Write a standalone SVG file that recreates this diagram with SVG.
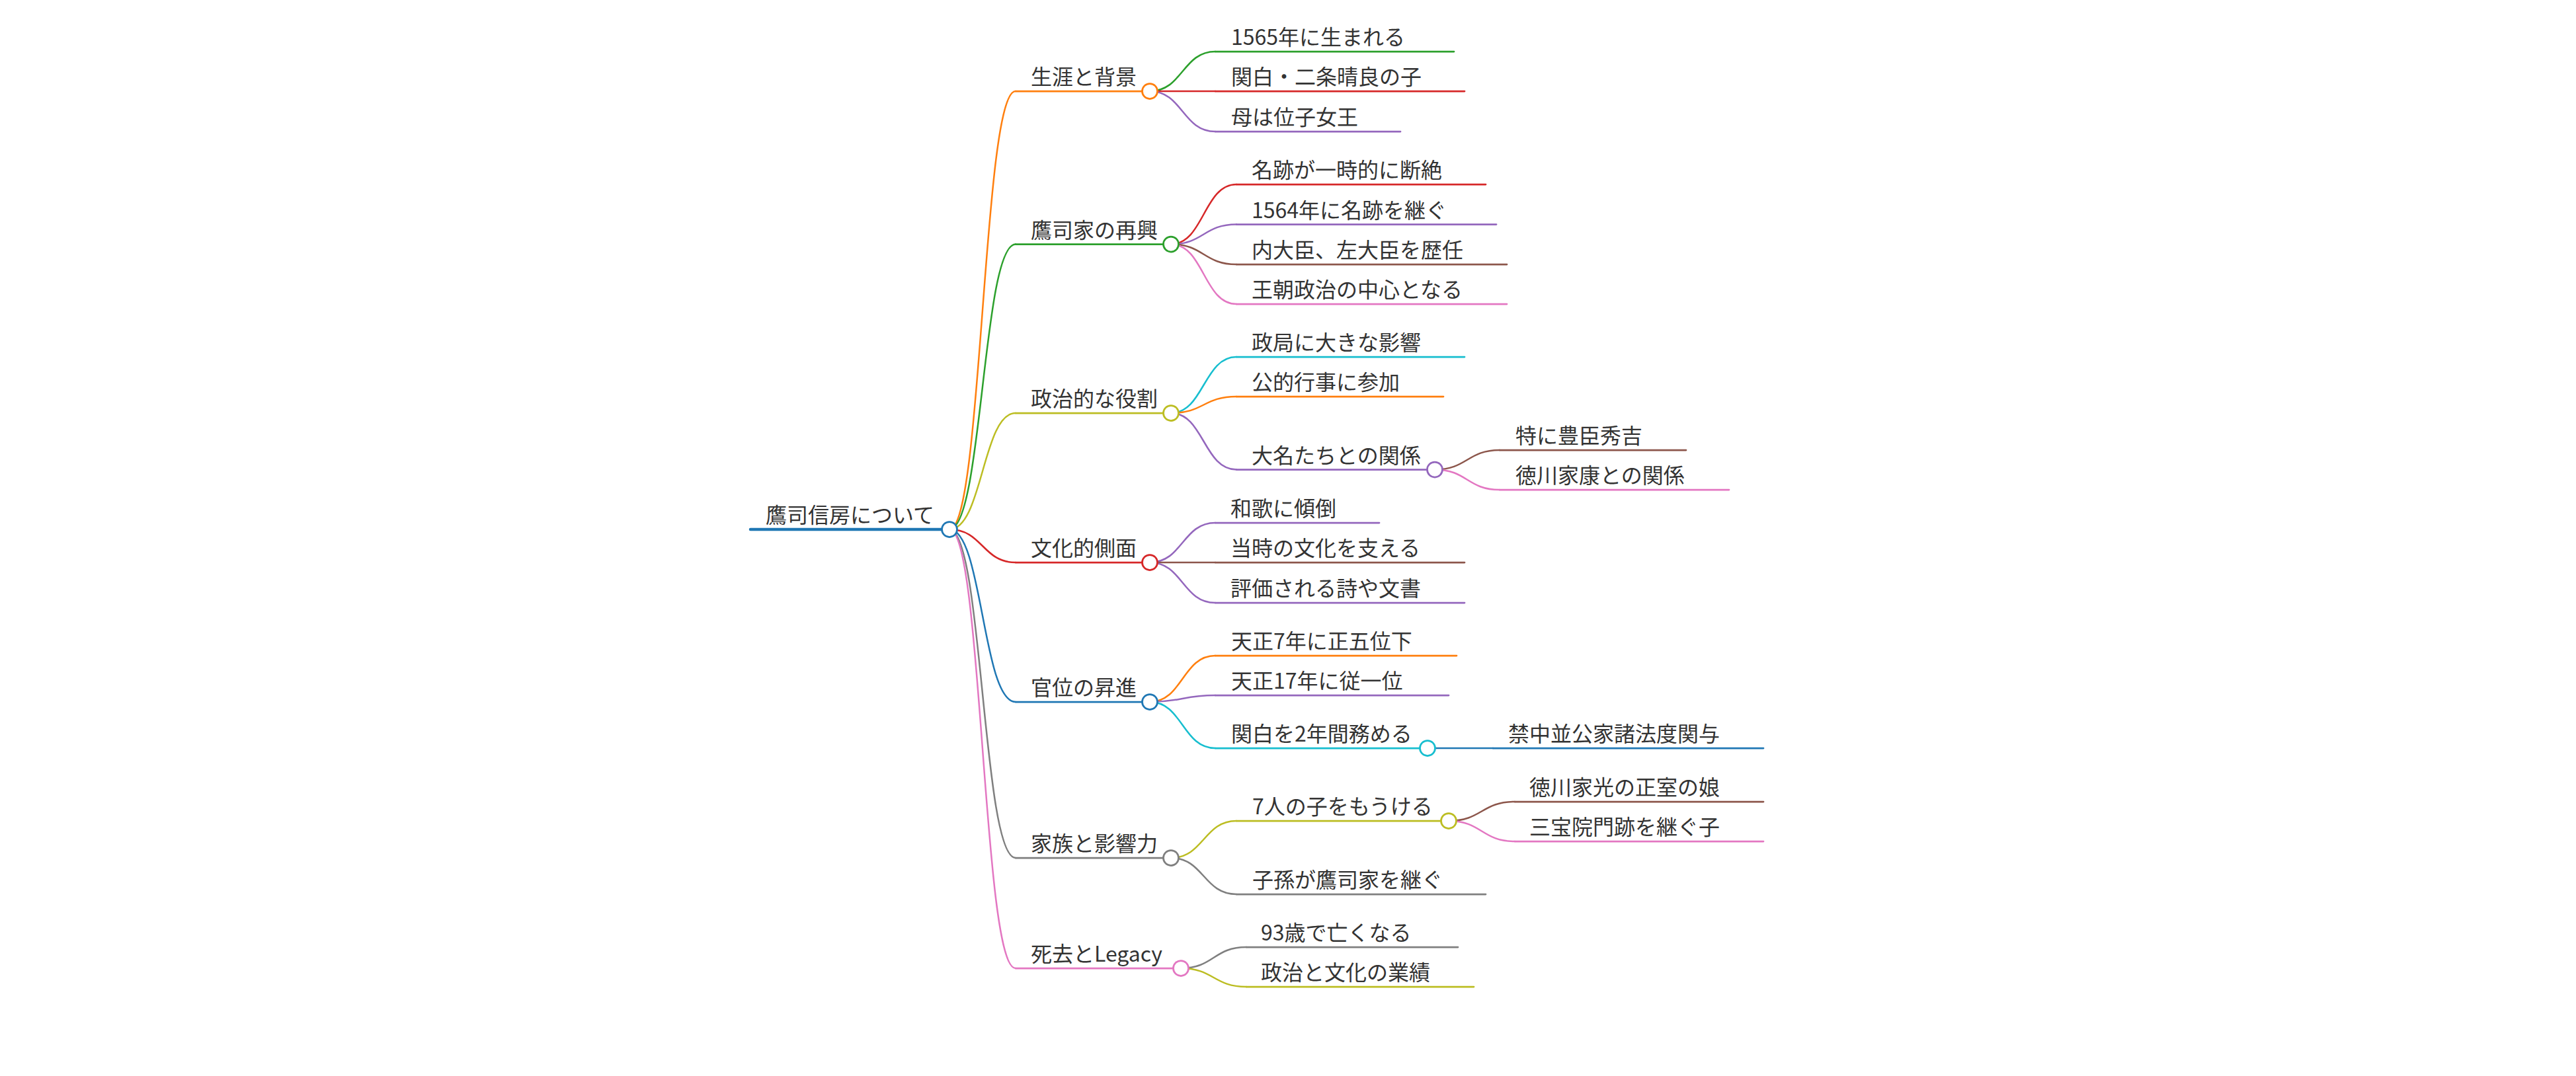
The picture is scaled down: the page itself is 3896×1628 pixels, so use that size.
<svg xmlns="http://www.w3.org/2000/svg" width="3896" height="1628" viewBox="0 0 3896 1628">
<style>
text{font-family:"Noto Sans CJK JP","Noto Sans",sans-serif;font-size:32px;fill:#333}
path{fill:none;stroke-width:2.5;stroke-linecap:round}
.ul{stroke-width:2.75}
.rootul{stroke-width:4.5}
circle{fill:#fff;stroke-width:2.75}
.c0{stroke:#1f77b4}.c1{stroke:#ff7f0e}.c2{stroke:#2ca02c}.c3{stroke:#d62728}.c4{stroke:#9467bd}
.c5{stroke:#8c564b}.c6{stroke:#e377c2}.c7{stroke:#7f7f7f}.c8{stroke:#bcbd22}.c9{stroke:#17becf}
</style>
<rect width="3896" height="1628" fill="#fff"/>
<g id="connectors">
<path class="c1" d="M1436,801 C1486,801 1486,138 1536,138"/>
<path class="c2" d="M1436,801 C1486,801 1486,369.5 1536,369.5"/>
<path class="c8" d="M1436,801 C1486,801 1486,625 1536,625"/>
<path class="c3" d="M1436,801 C1486,801 1486,851 1536,851"/>
<path class="c0" d="M1436,801 C1486,801 1486,1062 1536,1062"/>
<path class="c7" d="M1436,801 C1486,801 1486,1298 1536,1298"/>
<path class="c6" d="M1436,801 C1486,801 1486,1465 1536,1465"/>
<path class="c2" d="M1739,138 C1788.5,138 1788.5,78 1838,78"/>
<path class="c3" d="M1739,138 C1788.5,138 1788.5,138 1838,138"/>
<path class="c4" d="M1739,138 C1788.5,138 1788.5,199 1838,199"/>
<path class="c3" d="M1771,369.5 C1820.5,369.5 1820.5,279 1870,279"/>
<path class="c4" d="M1771,369.5 C1820.5,369.5 1820.5,339.5 1870,339.5"/>
<path class="c5" d="M1771,369.5 C1820.5,369.5 1820.5,400 1870,400"/>
<path class="c6" d="M1771,369.5 C1820.5,369.5 1820.5,460 1870,460"/>
<path class="c9" d="M1771,625 C1820.5,625 1820.5,540 1870,540"/>
<path class="c1" d="M1771,625 C1820.5,625 1820.5,600 1870,600"/>
<path class="c4" d="M1771,625 C1820.5,625 1820.5,710.5 1870,710.5"/>
<path class="c5" d="M2170,710.5 C2219,710.5 2219,681 2268,681"/>
<path class="c6" d="M2170,710.5 C2219,710.5 2219,741 2268,741"/>
<path class="c4" d="M1739,851 C1788.5,851 1788.5,791 1838,791"/>
<path class="c5" d="M1739,851 C1788.5,851 1788.5,851 1838,851"/>
<path class="c4" d="M1739,851 C1788.5,851 1788.5,912 1838,912"/>
<path class="c1" d="M1739,1062 C1788.5,1062 1788.5,992 1838,992"/>
<path class="c4" d="M1739,1062 C1788.5,1062 1788.5,1052 1838,1052"/>
<path class="c9" d="M1739,1062 C1788.5,1062 1788.5,1132 1838,1132"/>
<path class="c0" d="M2159,1132 C2208.5,1132 2208.5,1132 2258,1132"/>
<path class="c8" d="M1771,1298 C1820.5,1298 1820.5,1242 1870,1242"/>
<path class="c7" d="M1771,1298 C1820.5,1298 1820.5,1353 1870,1353"/>
<path class="c5" d="M2191,1242 C2241,1242 2241,1213 2291,1213"/>
<path class="c6" d="M2191,1242 C2241,1242 2241,1273 2291,1273"/>
<path class="c7" d="M1786,1465 C1835.5,1465 1835.5,1433 1885,1433"/>
<path class="c8" d="M1786,1465 C1835.5,1465 1835.5,1493 1885,1493"/>
</g>
<g id="node-root"><path class="rootul c0" d="M1135,801 H1436"/><circle class="c0" cx="1436" cy="801" r="11.5"/><text x="1158" y="791">鷹司信房について</text></g>
<g id="node-1"><path class="ul c1" d="M1536,138 H1739"/><circle class="c1" cx="1739" cy="138" r="11.5"/><text x="1559" y="128">生涯と背景</text></g>
<g id="node-1-1"><path class="ul c2" d="M1838,78 H2199"/><text x="1862" y="68">1565年に生まれる</text></g>
<g id="node-1-2"><path class="ul c3" d="M1838,138 H2215"/><text x="1862" y="128">関白・二条晴良の子</text></g>
<g id="node-1-3"><path class="ul c4" d="M1838,199 H2118"/><text x="1862" y="189">母は位子女王</text></g>
<g id="node-2"><path class="ul c2" d="M1536,369.5 H1771"/><circle class="c2" cx="1771" cy="369.5" r="11.5"/><text x="1559" y="359.5">鷹司家の再興</text></g>
<g id="node-2-1"><path class="ul c3" d="M1870,279 H2247"/><text x="1893" y="269">名跡が一時的に断絶</text></g>
<g id="node-2-2"><path class="ul c4" d="M1870,339.5 H2263"/><text x="1893" y="329.5">1564年に名跡を継ぐ</text></g>
<g id="node-2-3"><path class="ul c5" d="M1870,400 H2279"/><text x="1893" y="390">内大臣、左大臣を歴任</text></g>
<g id="node-2-4"><path class="ul c6" d="M1870,460 H2279"/><text x="1893" y="450">王朝政治の中心となる</text></g>
<g id="node-3"><path class="ul c8" d="M1536,625 H1771"/><circle class="c8" cx="1771" cy="625" r="11.5"/><text x="1559" y="615">政治的な役割</text></g>
<g id="node-3-1"><path class="ul c9" d="M1870,540 H2215"/><text x="1893" y="530">政局に大きな影響</text></g>
<g id="node-3-2"><path class="ul c1" d="M1870,600 H2183"/><text x="1893" y="590">公的行事に参加</text></g>
<g id="node-3-3"><path class="ul c4" d="M1870,710.5 H2170"/><circle class="c4" cx="2170" cy="710.5" r="11.5"/><text x="1893" y="700.5">大名たちとの関係</text></g>
<g id="node-3-3-1"><path class="ul c5" d="M2268,681 H2550"/><text x="2292" y="671">特に豊臣秀吉</text></g>
<g id="node-3-3-2"><path class="ul c6" d="M2268,741 H2615"/><text x="2292" y="731">徳川家康との関係</text></g>
<g id="node-4"><path class="ul c3" d="M1536,851 H1739"/><circle class="c3" cx="1739" cy="851" r="11.5"/><text x="1559" y="841">文化的側面</text></g>
<g id="node-4-1"><path class="ul c4" d="M1838,791 H2086"/><text x="1861" y="781">和歌に傾倒</text></g>
<g id="node-4-2"><path class="ul c5" d="M1838,851 H2215"/><text x="1861" y="841">当時の文化を支える</text></g>
<g id="node-4-3"><path class="ul c4" d="M1838,912 H2215"/><text x="1861" y="902">評価される詩や文書</text></g>
<g id="node-5"><path class="ul c0" d="M1536,1062 H1739"/><circle class="c0" cx="1739" cy="1062" r="11.5"/><text x="1559" y="1052">官位の昇進</text></g>
<g id="node-5-1"><path class="ul c1" d="M1838,992 H2203"/><text x="1862" y="982">天正7年に正五位下</text></g>
<g id="node-5-2"><path class="ul c4" d="M1838,1052 H2191"/><text x="1862" y="1042">天正17年に従一位</text></g>
<g id="node-5-3"><path class="ul c9" d="M1838,1132 H2159"/><circle class="c9" cx="2159" cy="1132" r="11.5"/><text x="1862" y="1122">関白を2年間務める</text></g>
<g id="node-5-3-1"><path class="ul c0" d="M2258,1132 H2667"/><text x="2281" y="1122">禁中並公家諸法度関与</text></g>
<g id="node-6"><path class="ul c7" d="M1536,1298 H1771"/><circle class="c7" cx="1771" cy="1298" r="11.5"/><text x="1559" y="1288">家族と影響力</text></g>
<g id="node-6-1"><path class="ul c8" d="M1870,1242 H2191"/><circle class="c8" cx="2191" cy="1242" r="11.5"/><text x="1894" y="1232">7人の子をもうける</text></g>
<g id="node-6-1-1"><path class="ul c5" d="M2291,1213 H2667"/><text x="2313" y="1203">徳川家光の正室の娘</text></g>
<g id="node-6-1-2"><path class="ul c6" d="M2291,1273 H2667"/><text x="2313" y="1263">三宝院門跡を継ぐ子</text></g>
<g id="node-6-2"><path class="ul c7" d="M1870,1353 H2247"/><text x="1894" y="1343">子孫が鷹司家を継ぐ</text></g>
<g id="node-7"><path class="ul c6" d="M1536,1465 H1786"/><circle class="c6" cx="1786" cy="1465" r="11.5"/><text x="1559" y="1455">死去とLegacy</text></g>
<g id="node-7-1"><path class="ul c7" d="M1885,1433 H2205"/><text x="1907" y="1423">93歳で亡くなる</text></g>
<g id="node-7-2"><path class="ul c8" d="M1885,1493 H2229"/><text x="1907" y="1483">政治と文化の業績</text></g>
</svg>
